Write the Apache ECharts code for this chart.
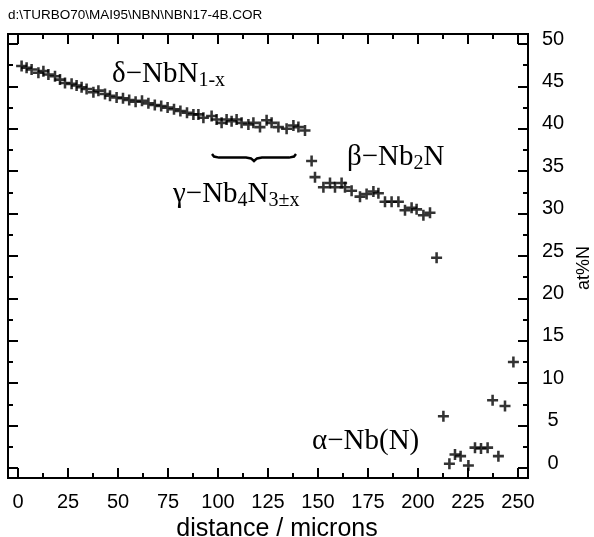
<!DOCTYPE html>
<html><head><meta charset="utf-8">
<script src="https://cdn.jsdelivr.net/npm/echarts@6/dist/echarts.min.js"></script>
<style>html,body{margin:0;padding:0;background:#fff}#c{width:594px;height:537px}</style>
</head><body><div id="c"></div><script>
// ---- data (distance in microns, at%N) ----
const deltaDist = [1.8,4.3,6.8,10.2,12.7,15.2,18.5,21.0,23.5,26.8,29.3,31.8,34.3,37.7,40.2,43.5,46.0,49.3,52.5,55.6,58.8,62.0,65.2,68.4,71.6,74.8,78.0,81.2,84.5,87.7,90.2,92.7,96.8,99.3,101.8,104.3,106.8,109.3,111.8,115.2,117.7,121.0,124.3,126.8,130.2,134.3,137.7,140.2,143.5];
const deltaAt   = [47.4,47.2,47.0,46.6,46.8,46.4,46.2,45.8,45.4,45.3,45.1,44.9,44.7,44.3,44.5,44.1,43.9,43.7,43.6,43.4,43.2,43.3,43.0,42.8,42.7,42.5,42.3,42.1,41.9,41.7,41.7,41.3,41.5,41.1,40.7,41.1,40.9,41.1,40.7,40.5,40.7,40.2,41.0,40.7,40.2,40.0,40.4,40.2,39.8];
const transDist = [146.8,148.5,209.3];
const transAt   = [36.2,34.3,24.8];
const betaDist  = [152.7,156.0,158.5,161.8,163.5,166.8,171.0,174.3,177.7,180.2,183.5,186.8,190.2,193.5,196.8,199.3,202.7,206.0];
const betaAt    = [33.1,33.6,33.1,33.6,33.1,32.7,32.0,32.3,32.6,32.4,31.4,31.4,31.4,30.4,30.7,30.5,29.8,30.1];
const alphaDist = [212.7,215.7,218.5,221.3,225.2,228.5,231.5,234.8,237.3,240.2,243.5,247.7];
const alphaAt   = [6.1,0.5,1.6,1.4,0.3,2.4,2.3,2.4,8.0,1.4,7.3,12.5];
const xTickLabels = [0,25,50,75,100,125,150,175,200,225,250];
const yTickLabels = [0,5,10,15,20,25,30,35,40,45,50];
const fileTitle = 'd:\\TURBO70\\MAI95\\NBN\\NBN17-4B.COR';

const zip = (a,b) => a.map((v,i)=>[v,b[i]]);
const plus = 'path://M4.3,0h2.6v11.2h-2.6z M0,4.3h11.2v2.6h-11.2z';
function sc(name, xs, ys){
  return {name, type:'scatter', xAxisIndex:0, yAxisIndex:1, data:zip(xs,ys),
    symbol:plus, symbolSize:11, itemStyle:{color:'#000'}, silent:true};
}
const sans = 'Liberation Sans, Arial, sans-serif';
const serif = 'Liberation Serif, Times New Roman, serif';
const chart = echarts.init(document.getElementById('c'), null, {renderer:'canvas'});
const G = {left:18, top:44, width:500, height:424, containLabel:false, outerBoundsMode:'none'};
const tick = () => ({show:true, inside:true, length:10, lineStyle:{color:'#000', width:2}});
const minor = () => ({show:true, splitNumber:2, length:5, lineStyle:{color:'#000', width:2}});
const noLine = () => ({show:false, onZero:false});
const richMain = {fontFamily:serif, fontSize:29, color:'#000', lineHeight:34};
const richSub = {fontFamily:serif, fontSize:20, color:'#000', lineHeight:22, verticalAlign:'top', padding:[14,0,0,0]};
function label(left, top, text){
  return {type:'text', left, top, silent:true,
    style:{text, rich:{m:richMain, s:richSub}, fill:'#000'}};
}
chart.setOption({
  animation:false,
  backgroundColor:'#fff',
  grid:G,
  xAxis:[
    {type:'value', position:'bottom', offset:10, min:0, max:250, interval:25,
     axisLine:noLine(), axisTick:tick(), minorTick:minor(), splitLine:{show:false},
     axisLabel:{fontFamily:sans, fontSize:20, color:'#000', margin:14,
       formatter:v=>xTickLabels.includes(v)?String(v):''},
     name:'distance / microns', nameLocation:'middle', nameGap:32,
     nameTextStyle:{fontFamily:sans, fontSize:25, color:'#000', padding:[0,0,0,18]}},
    {type:'value', position:'top', offset:10, min:0, max:250, interval:25,
     axisLine:noLine(), axisTick:tick(), minorTick:minor(), splitLine:{show:false},
     axisLabel:{show:false}}
  ],
  yAxis:[
    {type:'value', position:'left', offset:10, min:0, max:50, interval:5,
     axisLine:noLine(), axisTick:tick(), minorTick:minor(), splitLine:{show:false},
     axisLabel:{show:false}},
    {type:'value', position:'right', offset:10, min:0, max:50, interval:5,
     axisLine:noLine(), axisTick:tick(), minorTick:minor(), splitLine:{show:false},
     axisLabel:{fontFamily:sans, fontSize:20, color:'#000', margin:25, align:'center', verticalAlign:'bottom',
       lineHeight:10, formatter:v=>yTickLabels.includes(v)?String(v):''},
     name:'at%N', nameLocation:'middle', nameGap:47, nameRotate:90,
     nameTextStyle:{fontFamily:sans, fontSize:18, color:'#000', padding:[0,24,0,0]}}
  ],
  series:[
    sc('δ-NbN', deltaDist, deltaAt),
    sc('transition', transDist, transAt),
    sc('β-Nb2N', betaDist, betaAt),
    sc('α-Nb(N)', alphaDist, alphaAt)
  ],
  graphic:[
    {type:'rect', shape:{x:8, y:34, width:520, height:444}, style:{fill:null, stroke:'#000', lineWidth:2}, silent:true},
    {type:'text', left:8, top:8, silent:true, style:{text:fileTitle, font:'13.5px '+sans, fill:'#000'}},
    label(112, 57, '{m|δ−NbN}{s|1-x}'),
    label(347, 140, '{m|β−Nb}{s|2}{m|N}'),
    label(173, 177, '{m|γ−Nb}{s|4}{m|N}{s|3±x}'),
    label(312, 427, '{m|α−Nb(N)}'),
    {type:'polyline', silent:true,
     shape:{points:[[212,154],[214,156.5],[219,157.6],[246,157.6],[251,158.4],[254,161],[257,158.4],[262,157.6],[289,157.6],[294,156.5],[296,154]]},
     style:{stroke:'#000', lineWidth:2.5, fill:null}}
  ]
});
</script></body></html>
